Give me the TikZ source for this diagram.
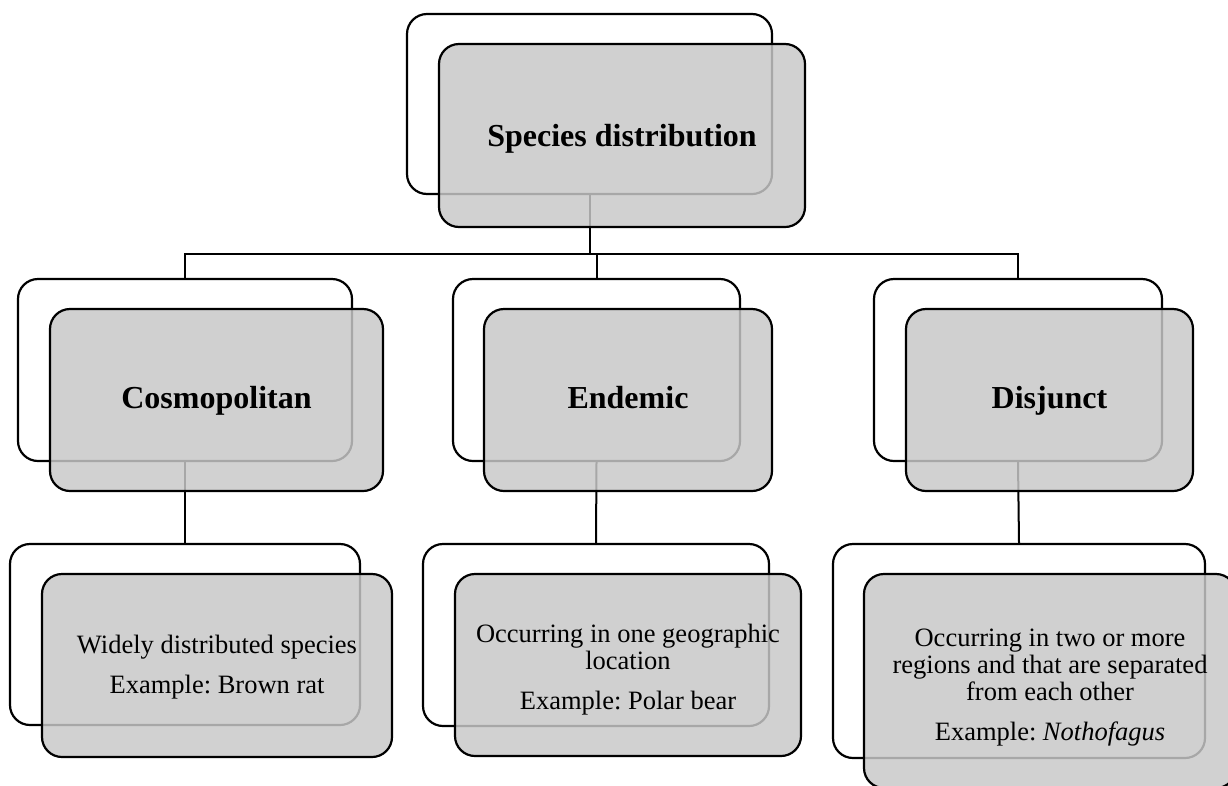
\documentclass[tikz,border=0pt]{standalone}
\usepackage{fontspec}
\setmainfont{Liberation Serif}
\frenchspacing
\definecolor{boxgray}{RGB}{200,200,200}
\tikzset{
  backbox/.style={draw=black, line width=2.2pt, fill=white, rounded corners=20pt,
    inner sep=0pt, anchor=center},
  frontbox/.style={draw=black, line width=2.2pt, fill=boxgray, fill opacity=0.84,
    rounded corners=20pt, inner sep=0pt, anchor=center},
  titletext/.style={font=\fontsize{32}{38}\selectfont\bfseries, inner sep=0pt,
    anchor=center, execute at begin node=\strut},
  bodytext/.style={font=\fontsize{26.5}{27}\selectfont, inner sep=0pt, anchor=center,
    align=center, execute at begin node=\frenchspacing},
  link/.style={draw=black, line width=2pt}
}
\begin{document}
\begin{tikzpicture}[x=1pt,y=-1pt]
\useasboundingbox (0,0) rectangle (1228,785);

% back boxes
\node[backbox, minimum width=365pt, minimum height=180pt] (topB) at (589.5,104) {};
\node[backbox, minimum width=334pt, minimum height=182pt] (cosB) at (185,370) {};
\node[backbox, minimum width=287pt, minimum height=182pt] (endB) at (596.5,370) {};
\node[backbox, minimum width=288pt, minimum height=182pt] (disB) at (1018,370) {};
\node[backbox, minimum width=350pt, minimum height=181pt] (cosLB) at (185,634.5) {};
\node[backbox, minimum width=346pt, minimum height=182pt] (endLB) at (596,635) {};
\node[backbox, minimum width=372pt, minimum height=214pt] (disLB) at (1019,651) {};

% connectors
\coordinate (bus) at (0,254);
\draw[link] (topB.south) -- (topB.south |- bus);
\draw[link] (cosB.north) -- (cosB.north |- bus) -- (disB.north |- bus) -- (disB.north);
\draw[link] (endB.north) -- (endB.north |- bus);
\draw[link] (cosB.south) -- (cosLB.north);
\draw[link] (endB.south) -- (endLB.north);
\draw[link] (disB.south) -- (disLB.north);

% front boxes
\node[frontbox, minimum width=366pt, minimum height=183pt] (topF) at (622,135.5) {};
\node[frontbox, minimum width=333pt, minimum height=182pt] (cosF) at (216.5,400) {};
\node[frontbox, minimum width=288pt, minimum height=182pt] (endF) at (628,400) {};
\node[frontbox, minimum width=287pt, minimum height=182pt] (disF) at (1049.5,400) {};
\node[frontbox, minimum width=350pt, minimum height=183pt] (cosLF) at (217,665.5) {};
\node[frontbox, minimum width=346pt, minimum height=182pt] (endLF) at (628,665) {};
\node[frontbox, minimum width=372pt, minimum height=214pt] (disLF) at (1050,681) {};

% texts
\node[titletext] (topT) at ([yshift=-3pt]topF.center) {Species distribution};
\node[titletext] (cosT) at ([yshift=-1pt]cosF.center) {Cosmopolitan};
\node[titletext] (endT) at ([yshift=-1pt]endF.center) {Endemic};
\node[titletext] (disT) at ([yshift=-1pt]disF.center) {Disjunct};
\node[bodytext] (cosLT) at ([yshift=-1.5pt]cosLF.center)
  {Widely distributed species\\[13pt]Example: Brown rat};
\node[bodytext] (endLT) at ([yshift=-4.5pt]endLF.center)
  {Occurring in one geographic\\location\\[13pt]Example: Polar bear};
\node[bodytext] (disLT) at ([yshift=-6.5pt]disLF.center)
  {Occurring in two or more\\regions and that are separated\\from each other\\[13pt]Example: \textit{Nothofagus}};
\end{tikzpicture}
\end{document}
